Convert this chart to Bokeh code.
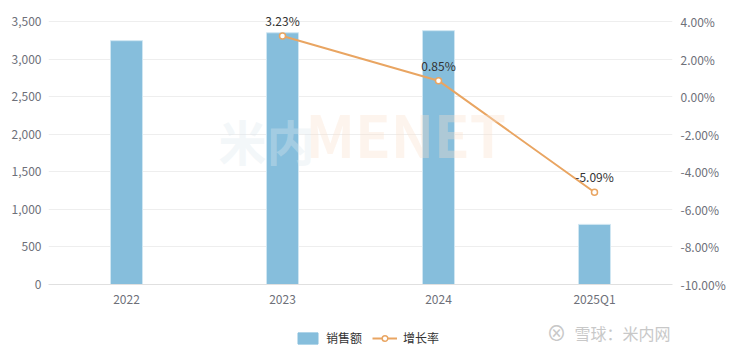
from bokeh.plotting import figure
from bokeh.layouts import column, row
from bokeh.models import (ColumnDataSource, Range1d, LinearAxis, FactorRange, Legend, LegendItem,
                          NumeralTickFormatter, Label, FixedTicker, LabelSet, CustomJSTickFormatter)
from bokeh.core.properties import value
from bokeh.embed import file_html
from bokeh.resources import INLINE

categories = ["2022", "2023", "2024", "2025Q1"]
sales = [3245, 3350, 3378, 800]
growth_cats = ["2023", "2024", "2025Q1"]
growth = [3.23, 0.85, -5.09]
growth_labels = ["3.23%", "0.85%", "-5.09%"]
series_names = ["销售额", "增长率"]
left_ticks = [0, 500, 1000, 1500, 2000, 2500, 3000, 3500]
right_ticks = [-10, -8, -6, -4, -2, 0, 2, 4]

FONT = "Noto Sans CJK SC"
TICK_COLOR = "#6E7079"
BAR_COLOR = "#86BEDC"
LINE_COLOR = "#E9A562"

# small headroom above the top gridline so the value labels are not clipped
HEAD = 12.0 / 263.0
p = figure(x_range=FactorRange(*categories),
           y_range=Range1d(0, 3500 * (1 + HEAD)),
           width=732, height=314,
           output_backend="svg", toolbar_location=None,
           min_border_left=48, min_border_right=60, min_border_top=9, min_border_bottom=30)
p.outline_line_color = None
p.background_fill_color = "white"

bar_src = ColumnDataSource(dict(x=categories, y=sales))
p.vbar(x="x", top="y", width=0.205, source=bar_src,
       fill_color=BAR_COLOR, line_color="#CFE6F2", line_width=1)

p.extra_y_ranges = {"pct": Range1d(-10, 4 + 14 * HEAD)}
right = LinearAxis(y_range_name="pct")
p.add_layout(right, "right")

line_src = ColumnDataSource(dict(x=growth_cats, y=growth, t=growth_labels))
p.line(x="x", y="y", source=line_src, y_range_name="pct",
       line_color=LINE_COLOR, line_width=2)
p.scatter(x="x", y="y", source=line_src, y_range_name="pct", size=6,
          fill_color="white", line_color=LINE_COLOR, line_width=1.5)
labels = LabelSet(x="x", y="y", text="t", source=line_src, y_range_name="pct",
                  text_align="center", text_baseline="bottom", y_offset=7,
                  text_font=value(FONT), text_font_size="12px", text_color="#333333")
p.add_layout(labels)

for ax in [p.yaxis[0], right, p.xaxis[0]]:
    ax.major_tick_line_color = None
    ax.minor_tick_line_color = None
    ax.major_tick_out = 0
    ax.major_tick_in = 0
    ax.minor_tick_out = 0
    ax.minor_tick_in = 0
    ax.major_label_text_font = FONT
    ax.major_label_text_font_size = "12px"
    ax.major_label_text_color = TICK_COLOR
p.yaxis[0].axis_line_color = None
right.axis_line_color = None
p.yaxis[0].major_label_standoff = 7
right.major_label_standoff = 8
p.yaxis[0].ticker = FixedTicker(ticks=left_ticks)
p.yaxis[0].formatter = NumeralTickFormatter(format="0,0")
right.ticker = FixedTicker(ticks=right_ticks)
right.formatter = CustomJSTickFormatter(code="return tick.toFixed(2) + '%';")

xa = p.xaxis[0]
xa.axis_line_color = "#E0E0E0"
xa.major_label_standoff = 5

p.xgrid.grid_line_color = None
p.ygrid.grid_line_color = "#EEEEEE"
p.ygrid.ticker = FixedTicker(ticks=left_ticks[1:])

p.add_layout(Label(x=170, y=110, x_units="screen", y_units="screen", text="米内",
                   text_font=FONT, text_font_size="48px", text_font_style="bold",
                   text_color="#DDE8EE", text_alpha=0.35))
p.add_layout(Label(x=257, y=110, x_units="screen", y_units="screen", text="MENET",
                   text_font=FONT, text_font_size="58px", text_font_style="bold",
                   text_color="#F8E0CC", text_alpha=0.35))

# legend strip
nan = float("nan")
lg = figure(width=732, height=40, x_range=Range1d(0, 1), y_range=Range1d(0, 1),
            output_backend="svg", toolbar_location=None,
            x_axis_location=None, y_axis_location=None, min_border=0)
lg.grid.grid_line_color = None
lg.outline_line_color = None
dummy = ColumnDataSource(dict(x=[nan], y=[nan]))
r_bar = lg.vbar(x="x", top="y", width=1, source=dummy, fill_color=BAR_COLOR, line_color=BAR_COLOR)
r_line = lg.line(x="x", y="y", source=dummy, line_color=LINE_COLOR, line_width=2)
r_pt = lg.scatter(x="x", y="y", source=dummy, size=9, fill_color="white",
                  line_color=LINE_COLOR, line_width=1.5)
legend = Legend(items=[LegendItem(label=series_names[0], renderers=[r_bar]),
                       LegendItem(label=series_names[1], renderers=[r_line, r_pt])],
                orientation="horizontal", location=(295, 8),
                label_text_font=FONT, label_text_font_size="12px", label_text_color="#333333",
                glyph_width=25, glyph_height=14, spacing=10, label_standoff=6,
                border_line_color=None, background_fill_alpha=0, margin=0, padding=0)
lg.add_layout(legend)
lg.add_layout(Label(x=556, y=22, x_units="screen", y_units="screen", text="⊗",
                    text_align="center", text_baseline="middle",
                    text_font=FONT, text_font_size="20px", text_color="#C8C8C8"))
lg.add_layout(Label(x=574, y=22, x_units="screen", y_units="screen", text="雪球：米内网",
                    text_baseline="middle",
                    text_font=FONT, text_font_size="16px", text_color="#C8C8C8"))

layout = column(p, row(lg), spacing=0)
open("out.html", "w").write(file_html(layout, INLINE))
